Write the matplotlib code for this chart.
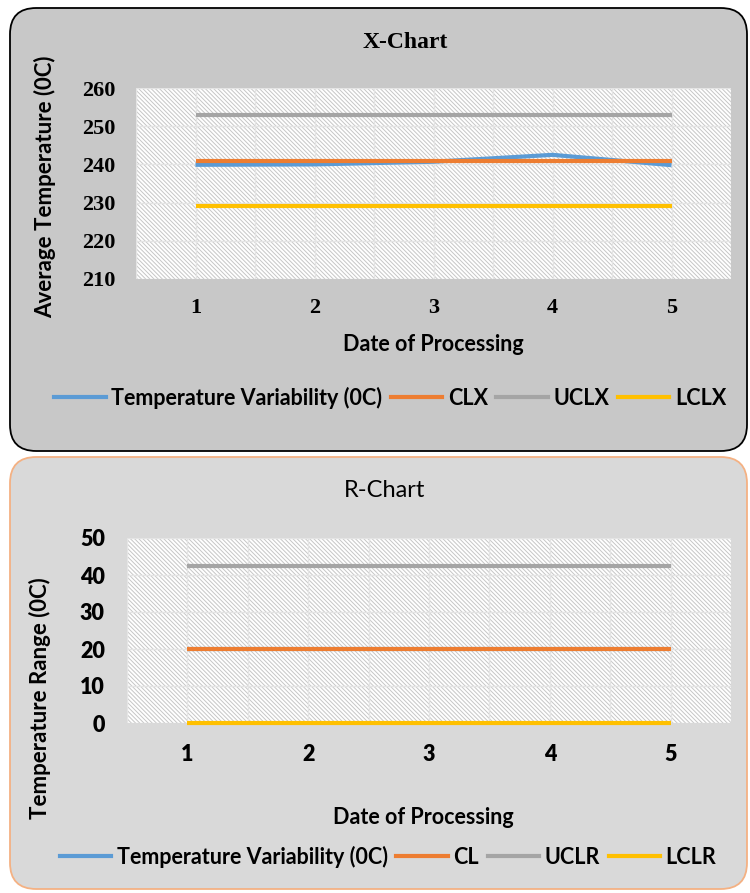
import matplotlib
matplotlib.use("Agg")
import matplotlib.pyplot as plt
from matplotlib.patches import FancyBboxPatch, Rectangle
from matplotlib.lines import Line2D

# ---------------- data ----------------
dates = [1, 2, 3, 4, 5]
x_temp = [239.9, 240.0, 240.7, 242.5, 239.8]
clx = [240.8, 240.8, 240.8, 240.8, 240.8]
uclx = [252.9, 252.9, 252.9, 252.9, 252.9]
lclx = [229.0, 229.0, 229.0, 229.0, 229.0]

r_temp = [20.1, 20.1, 20.1, 20.1, 20.1]
clr = [20.1, 20.1, 20.1, 20.1, 20.1]
uclr = [42.5, 42.5, 42.5, 42.5, 42.5]
lclr = [0.0, 0.0, 0.0, 0.0, 0.0]

y_ticks_top = [210, 220, 230, 240, 250, 260]
y_ticks_bot = [0, 10, 20, 30, 40, 50]
date_labels = ["1", "2", "3", "4", "5"]

top_labels = ["Temperature Variability (0C)", "CLX", "UCLX", "LCLX"]
bot_labels = ["Temperature Variability (0C)", "CL", "UCLR", "LCLR"]
colors = ["#5B9BD5", "#ED7D31", "#A5A5A5", "#FFC000"]

W, H = 750, 893
SANS = "Lato"
SERIF = "Liberation Serif"

plt.rcParams['hatch.linewidth'] = 0.7
fig = plt.figure(figsize=(W / 100, H / 100), dpi=100)


def fx(px):
    return px / W


def fy(py):
    return 1 - py / H


# panel backgrounds
top_panel = FancyBboxPatch((fx(10), fy(451)), fx(737), (451 - 8) / H,
                           boxstyle="round,pad=0,rounding_size=0.035",
                           transform=fig.transFigure, facecolor="#C8C8C8",
                           edgecolor="black", linewidth=1.3, zorder=-10,
                           mutation_aspect=W / H)
bot_panel = FancyBboxPatch((fx(10), fy(889)), fx(737), (889 - 457) / H,
                           boxstyle="round,pad=0,rounding_size=0.035",
                           transform=fig.transFigure, facecolor="#D9D9D9",
                           edgecolor="#F4B183", linewidth=1.3, zorder=-10,
                           mutation_aspect=W / H)
fig.patches.extend([top_panel, bot_panel])


def make_axes(left, right, top, bottom):
    ax = fig.add_axes([fx(left), fy(bottom), fx(right - left), (bottom - top) / H])
    ax.set_facecolor("white")
    ax.add_patch(Rectangle((0, 0), 1, 1, transform=ax.transAxes,
                           facecolor="white", edgecolor="#C6C6C6",
                           hatch="\\" * 8, linewidth=0, zorder=0.1))
    for s in ax.spines.values():
        s.set_visible(False)
    ax.set_axisbelow(True)
    ax.set_xlim(0.5, 5.5)
    ax.set_xticks([d - 0.5 for d in dates] + [5.5], minor=True)
    ax.grid(True, which="both", color="#E4E4E4", linewidth=1.0)
    ax.tick_params(which="both", length=0)
    return ax


# ---------------- X chart ----------------
ax1 = make_axes(136, 731, 88, 279)
series1 = [x_temp, clx, uclx, lclx]
for vals, c, lab in zip(series1, colors, top_labels):
    ax1.plot(dates, vals, color=c, linewidth=3, label=lab,
             solid_capstyle="butt", clip_on=False)
ax1.set_ylim(210, 260)
serif_tick = dict(fontfamily=SERIF, fontweight="bold", fontsize=16)
ax1.set_xticks(dates, labels=date_labels, **serif_tick)
ax1.set_yticks(y_ticks_top, labels=[str(v) for v in y_ticks_top], **serif_tick)
ax1.tick_params(axis="y", pad=15)
ax1.tick_params(axis="x", pad=14)

fig.text(fx(405), fy(42), "X-Chart", ha="center", va="center",
         fontfamily=SERIF, fontweight="bold", fontsize=17)
fig.text(fx(45), fy(187), "Average Temperature (0C)", ha="center", va="center",
         rotation=90, fontfamily=SANS, fontweight="bold", fontsize=16)
fig.text(fx(433), fy(345), "Date of Processing", ha="center", va="center",
         fontfamily=SANS, fontweight="bold", fontsize=15.5)

h1 = [Line2D([], [], color=c, linewidth=3) for c in colors]
fig.legend(h1, top_labels, loc="center", bbox_to_anchor=(fx(390), fy(398)),
           ncol=4, frameon=False, handlelength=2.4, handletextpad=0.25,
           columnspacing=0.4, prop={"family": SANS, "weight": "bold", "size": 15.5})

# ---------------- R chart ----------------
ax2 = make_axes(127, 731, 538, 723)
series2 = [r_temp, clr, uclr, lclr]
for vals, c, lab in zip(series2, colors, bot_labels):
    ax2.plot(dates, vals, color=c, linewidth=3, label=lab,
             solid_capstyle="butt", clip_on=False)
ax2.set_ylim(0, 50)
sans_tick = dict(fontfamily=SANS, fontweight="heavy", fontsize=15.5)
ax2.set_xticks(dates, labels=date_labels, **sans_tick)
ax2.set_yticks(y_ticks_bot, labels=[str(v) for v in y_ticks_bot], **sans_tick)
ax2.tick_params(axis="y", pad=16)
ax2.tick_params(axis="x", pad=15)

fig.text(fx(385), fy(490), "R-Chart", ha="center", va="center",
         fontfamily=SANS, fontsize=17)
fig.text(fx(40), fy(698), "Temperature Range (0C)", ha="center", va="center",
         rotation=90, fontfamily=SANS, fontweight="bold", fontsize=16)
fig.text(fx(423), fy(817), "Date of Processing", ha="center", va="center",
         fontfamily=SANS, fontweight="bold", fontsize=15.5)

h2 = [Line2D([], [], color=c, linewidth=3) for c in colors]
fig.legend(h2, bot_labels, loc="center", bbox_to_anchor=(fx(388), fy(857)),
           ncol=4, frameon=False, handlelength=2.4, handletextpad=0.25,
           columnspacing=0.4, prop={"family": SANS, "weight": "bold", "size": 15.5})

fig.savefig("out.png", dpi=100)
